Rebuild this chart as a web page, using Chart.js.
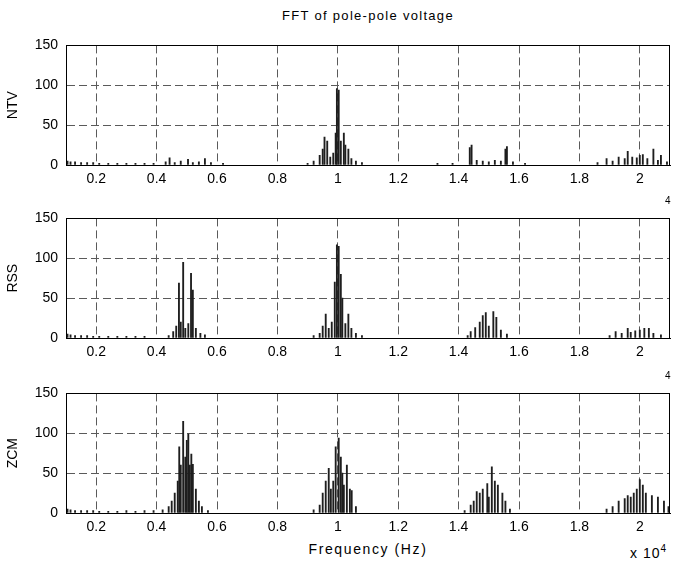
<!DOCTYPE html>
<html>
<head>
<meta charset="utf-8">
<script src="https://cdn.jsdelivr.net/npm/chart.js@4"></script>
<style>
  body { margin: 0; background: #fff; }
  #wrap { position: relative; width: 673px; height: 565px; font-family: "Liberation Sans", Arial, sans-serif; color: #000; }
  .panel { position: absolute; left: 0; width: 673px; height: 162px; }
  .txt { position: absolute; white-space: nowrap; }
</style>
</head>
<body>
<div id="wrap">
  <div class="txt" style="left:0;width:736px;top:8px;text-align:center;font-size:13px;letter-spacing:1.3px;">FFT of pole-pole voltage</div>
  <div class="panel" style="top:29px"><canvas id="ntvChart" width="673" height="162"></canvas></div>
  <div class="panel" style="top:202px"><canvas id="rssChart" width="673" height="162"></canvas></div>
  <div class="panel" style="top:377px"><canvas id="zcmChart" width="673" height="162"></canvas></div>
  <div class="txt" style="left:0;width:736px;top:541px;text-align:center;font-size:14px;letter-spacing:1.6px;">Frequency (Hz)</div>
  <div class="txt" style="left:630px;top:543px;font-size:14px;letter-spacing:1px;">x 10<sup style="font-size:10px">4</sup></div>
  <div class="txt" style="left:665px;top:195px;font-size:10px;">4</div>
  <div class="txt" style="left:665px;top:370px;font-size:10px;">4</div>
</div>
<script>
// tick labels (x in units of 10^4 Hz)
const xTicks = [0.2, 0.4, 0.6, 0.8, 1.0, 1.2, 1.4, 1.6, 1.8, 2.0];
const yTicks = [0, 50, 100, 150];

// NTV spectrum
const ntvFreq = [
  0.105, 0.115, 0.13, 0.15, 0.17, 0.19, 0.21, 0.24, 0.27, 0.3, 0.33, 0.36, 0.39,
  0.43, 0.443, 0.46, 0.48, 0.504, 0.52, 0.54, 0.56, 0.58, 0.62,
  0.9, 0.92, 0.94, 0.95, 0.956, 0.965, 0.975, 0.985, 0.993, 0.997, 1.003, 1.01, 1.02, 1.025, 1.035, 1.045, 1.06, 1.08,
  1.33, 1.38, 1.437, 1.443, 1.46, 1.48, 1.5, 1.52, 1.54, 1.555, 1.56, 1.58, 1.62,
  1.86, 1.89, 1.91, 1.93, 1.95, 1.96, 1.975, 1.99, 2.0, 2.01, 2.025, 2.045, 2.06, 2.07, 2.09
];
const ntvAmp = [
  5, 4, 4, 3, 3, 3, 2, 2, 2, 2, 2, 2, 2,
  4, 9, 3, 5, 7, 3, 4, 8, 3, 2,
  2, 5, 12, 20, 35, 30, 10, 15, 40, 96, 94, 30, 40, 25, 20, 8, 5, 3,
  2, 2, 22, 25, 6, 5, 4, 6, 5, 20, 23, 4, 2,
  3, 8, 5, 10, 8, 17, 10, 9, 12, 13, 8, 20, 6, 12, 4
];

// RSS spectrum
const rssFreq = [
  0.105, 0.115, 0.13, 0.15, 0.17, 0.19, 0.21, 0.24, 0.27, 0.3, 0.33, 0.36,
  0.44, 0.455, 0.465, 0.474, 0.48, 0.488, 0.495, 0.505, 0.514, 0.52, 0.53, 0.545, 0.56,
  0.92, 0.94, 0.95, 0.96, 0.97, 0.98, 0.99, 0.997, 1.003, 1.01, 1.015, 1.025, 1.035, 1.045, 1.06, 1.08,
  1.43, 1.44, 1.455, 1.47, 1.48, 1.49, 1.5, 1.515, 1.525, 1.54, 1.56,
  1.9, 1.92, 1.94, 1.96, 1.97, 1.985, 2.0, 2.015, 2.03, 2.045, 2.07
];
const rssAmp = [
  5, 4, 3, 3, 3, 2, 2, 2, 2, 2, 2, 2,
  3, 8, 15, 69, 20, 95, 12, 18, 81, 60, 12, 6, 4,
  3, 6, 15, 30, 12, 20, 70, 117, 115, 80, 50, 18, 30, 12, 6, 3,
  3, 8, 13, 20, 28, 32, 15, 33, 26, 10, 5,
  3, 8, 6, 12, 7, 9, 10, 12, 12, 6, 4
];

// ZCM spectrum
const zcmFreq = [
  0.105, 0.115, 0.13, 0.15, 0.17, 0.19, 0.21, 0.24, 0.27, 0.3, 0.33, 0.36, 0.39,
  0.42, 0.44, 0.45, 0.46, 0.47, 0.475, 0.48, 0.488, 0.495, 0.5, 0.505, 0.51, 0.515, 0.52, 0.53, 0.54, 0.55, 0.57,
  0.92, 0.94, 0.95, 0.96, 0.97, 0.977, 0.985, 0.993, 1.003, 1.01, 1.015, 1.02, 1.03, 1.04, 1.046, 1.06,
  1.42, 1.44, 1.45, 1.46, 1.47, 1.48, 1.495, 1.5, 1.51, 1.52, 1.53, 1.545, 1.555, 1.57,
  1.89, 1.91, 1.93, 1.95, 1.96, 1.97, 1.98, 1.99, 2.0, 2.01, 2.02, 2.04, 2.06, 2.08, 2.095
];
const zcmAmp = [
  5, 4, 3, 3, 3, 3, 2, 2, 2, 3, 2, 3, 3,
  4, 8, 15, 25, 40, 83, 60, 115, 70, 91, 99, 60, 74, 61, 30, 15, 8, 3,
  4, 10, 25, 40, 56, 30, 40, 83, 94, 70, 50, 35, 60, 30, 28, 8,
  3, 10, 15, 27, 25, 30, 37, 20, 58, 40, 35, 25, 15, 5,
  5, 8, 15, 18, 22, 20, 25, 30, 42, 35, 25, 22, 20, 15, 8
];

const FONT = { family: '"Liberation Sans", Arial, sans-serif', size: 14 };

// black box round the plot area, like matlab axes
const boxPlugin = {
  id: 'box',
  afterDatasetsDraw(chart) {
    const a = chart.chartArea;
    const ctx = chart.ctx;
    ctx.save();
    ctx.strokeStyle = '#000';
    ctx.lineWidth = 1;
    ctx.setLineDash([]);
    ctx.strokeRect(Math.round(a.left) + 0.5, Math.round(a.top) + 0.5,
      Math.round(a.right - a.left) - 1, Math.round(a.bottom - a.top));
    ctx.restore();
  }
};

function makePanel(id, label, freq, amp) {
  const points = freq.map((f, i) => ({ x: f, y: amp[i] }));
  return new Chart(document.getElementById(id), {
    type: 'bar',
    data: {
      datasets: [{
        label: label,
        data: points,
        backgroundColor: '#1e1e1e',
        borderWidth: 0,
        barThickness: 1.2
      }]
    },
    options: {
      responsive: false,
      animation: false,
      events: [],
      layout: { padding: { top: 8, right: 3, left: 0, bottom: 0 } },
      plugins: { legend: { display: false }, tooltip: { enabled: false } },
      scales: {
        x: {
          type: 'linear',
          min: 0.1,
          max: 2.1,
          offset: false,
          grid: { color: '#5a5a5a', lineWidth: 1, drawTicks: false, offset: false },
          border: { display: true, color: '#000', dash: [8, 4] },
          afterBuildTicks: s => { s.ticks = xTicks.map(v => ({ value: v })); },
          afterFit: s => { s.height = 26; },
          ticks: {
            color: '#000',
            font: FONT,
            padding: 6,
            maxRotation: 0,
            autoSkip: false,
            callback: v => String(parseFloat(v.toFixed(1)))
          }
        },
        y: {
          min: 0,
          max: 150,
          grid: { color: '#5a5a5a', lineWidth: 1, drawTicks: false },
          border: { display: true, color: '#000', dash: [8, 4] },
          afterBuildTicks: s => { s.ticks = yTicks.map(v => ({ value: v })); },
          afterFit: s => { s.width = 66; },
          ticks: { color: '#000', font: FONT, padding: 8 },
          title: {
            display: true,
            text: label,
            color: '#000',
            font: FONT,
            padding: { top: 5, bottom: 0 }
          }
        }
      }
    },
    plugins: [boxPlugin]
  });
}

const ntvChart = makePanel('ntvChart', 'NTV', ntvFreq, ntvAmp);
const rssChart = makePanel('rssChart', 'RSS', rssFreq, rssAmp);
const zcmChart = makePanel('zcmChart', 'ZCM', zcmFreq, zcmAmp);
</script>
</body>
</html>
